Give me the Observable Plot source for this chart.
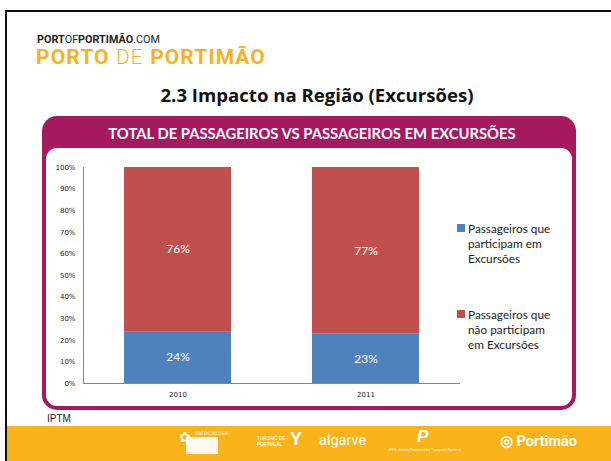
<!DOCTYPE html>
<html>
<head>
<meta charset="utf-8">
<script src="https://cdn.jsdelivr.net/npm/d3@7"></script>
<script src="https://cdn.jsdelivr.net/npm/@observablehq/plot@0.6"></script>
<style>
  html, body { margin: 0; padding: 0; background: #fff; }
  body { width: 611px; height: 461px; position: relative; overflow: hidden; font-family: Lato, "Open Sans", sans-serif; }
  .abs { position: absolute; }
  #frame { left: 5px; top: 10px; width: 700px; height: 600px; border-left: 2px solid #111; border-top: 2px solid #111; }
  #site { left: 37px; top: 35px; font-family: Roboto, sans-serif; font-size: 10.8px; line-height: 1; color: #222; }
  #brand { left: 36px; top: 47px; font-family: Roboto, sans-serif; font-size: 21px; line-height: 1; font-weight: 700; color: #F9B21B; letter-spacing: 1.1px; }
  #brand .lt { font-weight: 300; }
  #title { left: 0; width: 634px; top: 82px; text-align: center; font-family: "Open Sans", sans-serif; font-size: 18.6px; font-weight: 700; color: #111; }
  #panel { left: 42px; top: 116px; width: 534px; height: 294px; background: #A5195F; border-radius: 15px; }
  #panelTitle { left: 0; width: 540px; top: 8px; text-align: center; color: #fff; font-weight: 700; font-size: 14.8px; }
  #inner { left: 4px; top: 32px; width: 526px; height: 258px; background: #fff; border-radius: 11px; }
  #chart { left: 47px; top: 150px; }
  .leg { left: 457px; font-size: 11.8px; color: #222; line-height: 15px; }
  .sw { position: absolute; left: 0; top: 3px; width: 8px; height: 8px; }
  .lt2 { margin-left: 11px; }
  #src { left: 47px; top: 413px; font-family: "Liberation Sans", Arial, sans-serif; font-size: 10px; color: #222; }
  #footer { left: 7px; top: 426px; width: 604px; height: 35px; background: #FBB31A; }
  .logo { position: absolute; color: #fff; font-family: "Liberation Sans", Arial, sans-serif; white-space: nowrap; }
</style>
</head>
<body>
<div id="frame" class="abs"></div>
<div id="site" class="abs"><b>PORT</b>OF<b>PORTIMÃO</b>.COM</div>
<div id="brand" class="abs">PORTO <span class="lt">DE</span> PORTIMÃO</div>
<div id="title" class="abs">2.3 Impacto na Região (Excursões)</div>
<div id="panel" class="abs">
  <div id="panelTitle" class="abs">TOTAL DE PASSAGEIROS VS PASSAGEIROS EM EXCURSÕES</div>
  <div id="inner" class="abs"></div>
</div>
<div id="chart" class="abs"></div>
<div id="legend"></div>
<div id="src" class="abs">IPTM</div>
<div id="footer" class="abs">
  <div class="logo" style="left:172px;top:3px;font-size:14px;">✿</div>
  <div class="logo" style="left:188px;top:4px;font-size:5px;font-family:'DejaVu Serif',serif;">MEDCRUISE</div>
  <div class="logo" style="left:179px;top:11px;width:32px;height:15px;background:rgba(255,255,255,0.92);border-top:2px solid #fff;"></div>
  <div class="logo" style="left:250px;top:10px;font-size:4.5px;line-height:6px;">TURISMO DE<br><b>PORTUGAL</b></div>
  <div class="logo" style="left:283px;top:3px;font-size:18px;font-weight:700;">Y</div>
  <div class="logo" style="left:312px;top:6px;font-size:14.5px;font-family:Roboto,sans-serif;">algarve</div>
  <div class="logo" style="left:410px;top:1px;font-size:17px;font-weight:700;font-style:italic;">P</div>
  <div class="logo" style="left:382px;top:22px;font-size:3px;">IPTM - Instituto Portuário e dos Transportes Marítimos</div>
  <div class="logo" style="left:493px;top:7px;font-size:14.5px;font-weight:700;font-family:Roboto,sans-serif;">◎ Portimão</div>
</div>
<script>
const years = ["2010", "2011"];
const seriesNames = [
  "Passageiros que participam em Excursões",
  "Passageiros que não participam em Excursões"
];
const participam = [24, 23];
const naoParticipam = [76, 77];
const colors = ["#4F81BD", "#C0504D"];
const yTicks = [0, 10, 20, 30, 40, 50, 60, 70, 80, 90, 100];

const data = [];
years.forEach((yr, i) => {
  data.push({year: yr, series: seriesNames[0], value: participam[i]});
  data.push({year: yr, series: seriesNames[1], value: naoParticipam[i]});
});

const chart = Plot.plot({
  width: 420,
  height: 252,
  marginLeft: 36,
  marginRight: 7,
  marginTop: 17,
  marginBottom: 19,
  style: {fontFamily: "'DejaVu Sans', sans-serif", fontSize: "7px", color: "#222", background: "transparent"},
  x: {domain: years, paddingInner: 0.43, paddingOuter: 0.215, label: null},
  y: {domain: [0, 100], label: null},
  color: {domain: seriesNames, range: colors},
  marks: [
    Plot.barY(data, Plot.stackY({x: "year", y: "value", fill: "series", order: seriesNames})),
    Plot.text(data, Plot.stackY({x: "year", y: "value", z: "series", order: seriesNames, text: d => d.value + "%", fill: "#fff", fontSize: 12, fontFamily: "Lato, sans-serif"})),
    Plot.axisY({ticks: yTicks, tickSize: 0, tickPadding: 8, tickFormat: d => d + "%"}),
    Plot.axisX({tickSize: 0, tickPadding: 9}),
    Plot.frame({anchor: "left", stroke: "#868686"}),
    Plot.ruleY([0], {stroke: "#868686", strokeWidth: 1.2})
  ]
});
document.getElementById("chart").appendChild(chart);

const legend = document.getElementById("legend");
const tops = [221, 307];
seriesNames.forEach((s, i) => {
  const lines = i === 0 ? ["Passageiros que", "participam em", "Excursões"] : ["Passageiros que", "não participam", "em Excursões"];
  const el = document.createElement("div");
  el.className = "abs leg";
  el.style.top = tops[i] + "px";
  el.innerHTML = `<div class="sw" style="background:${colors[i]}"></div><div class="lt2">${lines.join("<br>")}</div>`;
  legend.appendChild(el);
});
</script>
</body>
</html>
